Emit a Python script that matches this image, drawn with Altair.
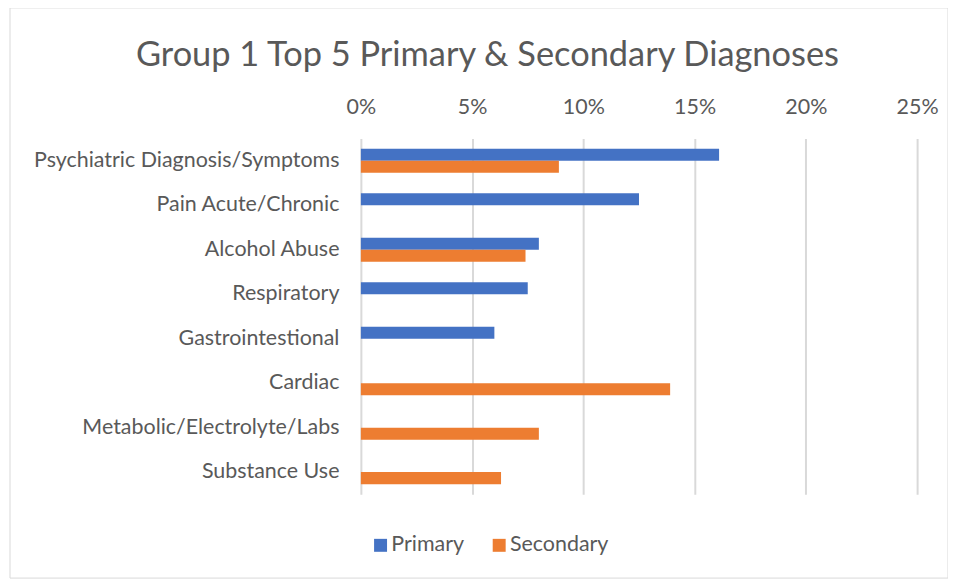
import altair as alt
import pandas as pd

categories = ["Psychiatric Diagnosis/Symptoms", "Pain Acute/Chronic", "Alcohol Abuse",
              "Respiratory", "Gastrointestional", "Cardiac",
              "Metabolic/Electrolyte/Labs", "Substance Use"]
series = ["Primary", "Secondary"]
primary = [0.161, 0.125, 0.080, 0.075, 0.060, None, None, None]
secondary = [0.089, None, 0.074, None, None, 0.139, 0.080, 0.063]
colors = ["#4472C4", "#ED7D31"]
ticks = [0, 0.05, 0.10, 0.15, 0.20, 0.25]

rows = []
for c, p, s in zip(categories, primary, secondary):
    if p is not None:
        rows.append({"Category": c, "Series": "Primary", "Value": p})
    if s is not None:
        rows.append({"Category": c, "Series": "Secondary", "Value": s})
df = pd.DataFrame(rows)

FONT = "Lato"
GRAY = "#595959"
FS = 21.5

bars = alt.Chart(df).mark_bar().encode(
    x=alt.X("Value:Q",
            scale=alt.Scale(domain=[0, 0.25], nice=False),
            axis=alt.Axis(orient="top", format=".0%", values=ticks, title=None,
                          grid=True, gridColor="#d9d9d9", gridWidth=2,
                          ticks=False, domain=False, labelFont=FONT, labelFlush=False,
                          labelFontSize=FS, labelColor=GRAY, labelPadding=20)),
    y=alt.Y("Category:N", sort=categories,
            scale=alt.Scale(paddingInner=0.46, paddingOuter=0.23),
            axis=alt.Axis(title=None, ticks=False, domain=False, labelFont=FONT,
                          labelFontSize=FS, labelColor=GRAY, labelPadding=22,
                          labelLimit=0)),
    yOffset=alt.YOffset("Series:N", sort=series, scale=alt.Scale(domain=series)),
    color=alt.Color("Series:N", sort=series,
                    scale=alt.Scale(domain=series, range=colors),
                    legend=alt.Legend(title=None, orient="none", direction="horizontal",
                                      legendX=9, legendY=397, symbolType="square",
                                      symbolSize=169, labelFont=FONT, labelFontSize=FS,
                                      labelColor=GRAY, columnPadding=24,
                                      labelOffset=0)),
)

frame = alt.Chart(pd.DataFrame({"a": [0]})).mark_rect(
    fill=None, stroke="#d9d9d9", strokeWidth=1
).encode(x=alt.value(-352), x2=alt.value(589), y=alt.value(-131), y2=alt.value(441))

chart = alt.layer(frame, bars).properties(
    width=558, height=357,
    title=alt.TitleParams("Group 1 Top 5 Primary & Secondary Diagnoses",
                          font=FONT, fontSize=34.5, fontWeight="normal", color=GRAY,
                          anchor="middle", dx=-152, dy=66, offset=0),
    autosize=alt.AutoSizeParams(type="none"),
    padding={"left": 354, "top": 130, "right": 31, "bottom": 85},
).configure(view=alt.ViewConfig(stroke=None))

chart.save("out.html", embed_options={"renderer": "svg", "actions": False})
